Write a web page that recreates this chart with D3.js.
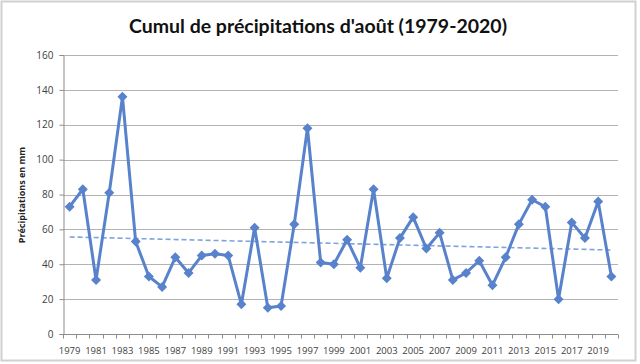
<!DOCTYPE html>
<html>
<head>
<meta charset="utf-8">
<script src="https://cdn.jsdelivr.net/npm/d3@7"></script>
<style>
  body { margin: 0; background: #fff; }
  svg { display: block; }
</style>
</head>
<body>
<svg class="main-svg" width="640" height="364"></svg>
<script>
const years = d3.range(1979, 2021);
const precip = [73, 83, 31, 81, 136, 53, 33, 27, 44, 35,
  45, 46, 45, 17, 61, 15, 16, 63, 118, 41,
  40, 54, 38, 83, 32, 55, 67, 49, 58, 31,
  35, 42, 28, 44, 63, 77, 73, 20, 64, 55,
  76, 33];
const yTicks = [0, 20, 40, 60, 80, 100, 120, 140, 160];
const xLabels = years.filter((y, i) => i % 2 === 0);

const title = "Cumul de précipitations d'août (1979-2020)";
const yTitle = "Précipitations en mm";

const svg = d3.select(".main-svg");
const margin = {top: 55, right: 22, bottom: 30, left: 63};
const width = 640, height = 364;

// outer frame
svg.append("rect")
  .attr("x", 1.5).attr("y", 1.5)
  .attr("width", 634).attr("height", 359)
  .attr("fill", "#fff")
  .attr("stroke", "#d0d0d0")
  .attr("stroke-width", 2);

const x = d3.scaleBand()
  .domain(years)
  .range([margin.left, width - margin.right]);

const y = d3.scaleLinear()
  .domain([0, 160])
  .range([height - margin.bottom, margin.top]);

const cx = d => x(d) + x.bandwidth() / 2;

// gridlines
svg.append("g")
  .selectAll("line")
  .data(yTicks)
  .join("line")
    .attr("x1", margin.left)
    .attr("x2", width - margin.right)
    .attr("y1", d => Math.round(y(d)) + 0.5)
    .attr("y2", d => Math.round(y(d)) + 0.5)
    .attr("stroke", "#b3b3b3")
    .attr("stroke-width", 1);

// y axis
const yAxis = svg.append("g")
  .attr("transform", `translate(${margin.left + 0.5},0)`)
  .call(d3.axisLeft(y).tickValues(yTicks).tickSize(4).tickPadding(6));
yAxis.select(".domain").attr("stroke", "#8c8c8c");
yAxis.selectAll(".tick line").attr("stroke", "#8c8c8c");
yAxis.selectAll(".tick text")
  .attr("font-family", "Open Sans, sans-serif")
  .attr("font-size", 10)
  .attr("fill", "#404040");

// x axis: ticks between categories
const xg = svg.append("g")
  .attr("transform", `translate(0,${Math.round(y(0)) + 0.5})`);
xg.append("line")
  .attr("x1", margin.left).attr("x2", width - margin.right)
  .attr("stroke", "#8c8c8c");
xg.selectAll(".tk")
  .data(years.concat([null]))
  .join("line")
    .attr("class", "tk")
    .attr("x1", (d, i) => Math.round(margin.left + i * x.step()) + 0.5)
    .attr("x2", (d, i) => Math.round(margin.left + i * x.step()) + 0.5)
    .attr("y1", 0).attr("y2", 4)
    .attr("stroke", "#8c8c8c");
xg.selectAll("text")
  .data(xLabels)
  .join("text")
    .attr("x", d => cx(d))
    .attr("y", 19)
    .attr("text-anchor", "middle")
    .attr("font-family", "Open Sans, sans-serif")
    .attr("font-size", 9.5)
    .attr("fill", "#404040")
    .text(d => d);

// trend line (least squares)
const n = years.length;
const mx = d3.mean(years), my = d3.mean(precip);
const slope = d3.sum(years, (d, i) => (d - mx) * (precip[i] - my)) /
  d3.sum(years, d => (d - mx) ** 2);
const icpt = my - slope * mx;
const y0 = years[0], y1 = years[n - 1];
svg.append("line")
  .attr("x1", cx(y0)).attr("x2", cx(y1))
  .attr("y1", y(icpt + slope * y0))
  .attr("y2", y(icpt + slope * y1))
  .attr("stroke", "#7fa3dc")
  .attr("stroke-width", 1.6)
  .attr("stroke-dasharray", "5,3");

// data line
const line = d3.line()
  .x((d, i) => cx(years[i]))
  .y(d => y(d));

svg.append("path")
  .datum(precip)
  .attr("fill", "none")
  .attr("stroke", "#5882cb")
  .attr("stroke-width", 3)
  .attr("stroke-linejoin", "round")
  .attr("d", line);

svg.append("g")
  .selectAll("path")
  .data(precip)
  .join("path")
    .attr("transform", (d, i) => `translate(${cx(years[i])},${y(d)})`)
    .attr("d", "M0,-5L5,0L0,5L-5,0Z")
    .attr("fill", "#5882cb");

// title
svg.append("text")
  .attr("x", 318).attr("y", 33)
  .attr("text-anchor", "middle")
  .attr("font-family", "Lato, sans-serif")
  .attr("font-weight", "bold")
  .attr("font-size", 19)
  .attr("textLength", 378)
  .attr("lengthAdjust", "spacingAndGlyphs")
  .attr("fill", "#111")
  .text(title);

// y axis title
svg.append("text")
  .attr("transform", "translate(25,195) rotate(-90)")
  .attr("text-anchor", "middle")
  .attr("font-family", "Open Sans, sans-serif")
  .attr("font-weight", "bold")
  .attr("font-size", 9)
  .attr("fill", "#222")
  .text(yTitle);
</script>
</body>
</html>
